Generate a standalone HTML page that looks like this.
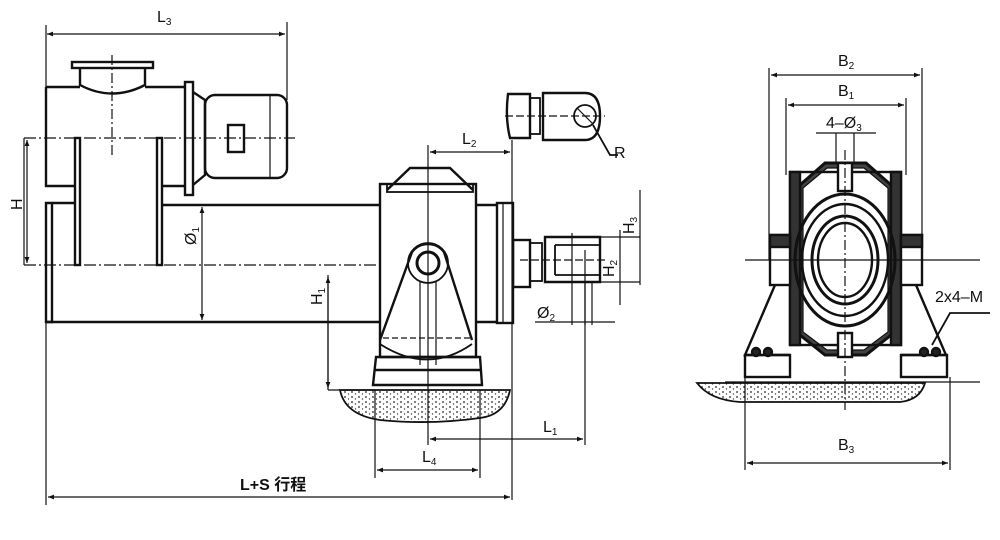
<!DOCTYPE html>
<html><head><meta charset="utf-8"><style>
html,body{margin:0;padding:0;background:#fff;}
svg{display:block;}
text{font-family:"Liberation Sans","Noto Sans CJK SC",sans-serif;fill:#111;}
</style></head><body>
<svg width="1000" height="540" viewBox="0 0 1000 540" xmlns="http://www.w3.org/2000/svg">
<defs>
<marker id="a" viewBox="0 0 10 10" refX="10" refY="5" markerWidth="7" markerHeight="5" orient="auto-start-reverse"><path d="M0,1 L10,5 L0,9z" fill="#111"/></marker>
<pattern id="dots" width="7" height="5" patternUnits="userSpaceOnUse"><circle cx="2" cy="2" r="0.9" fill="#222"/><circle cx="5.5" cy="4" r="0.7" fill="#444"/></pattern>
</defs>
<g stroke="#111" fill="none" stroke-width="2.4">
<line x1="46" y1="25" x2="46" y2="140" stroke-width="1.2"/>
<line x1="287" y1="22" x2="287" y2="100" stroke-width="1.2"/>
<line x1="47" y1="34" x2="285" y2="34" stroke-width="1.2" marker-start="url(#a)" marker-end="url(#a)"/>
<rect x="72" y="62" width="81" height="6"/>
<path d="M80,68 V85 Q112,102 145,85 V68"/>
<line x1="112" y1="55" x2="112" y2="155" stroke-width="1.2" stroke-dasharray="10,3,2,3"/>
<path d="M46,87 H80 M145,87 H185 M46,87 V186 H75"/>
<line x1="162" y1="186" x2="185" y2="186"/>
<line x1="24" y1="138" x2="295" y2="138" stroke-width="1.2" stroke-dasharray="12,3,2,3"/>
<rect x="185" y="82" width="8" height="113"/>
<path d="M193,92 L205,100 V175 L193,185"/>
<rect x="205" y="95" width="82" height="83" rx="10"/>
<line x1="270" y1="95" x2="270" y2="178" stroke-width="1.2"/>
<rect x="228" y="125" width="16" height="27"/>
<rect x="75" y="138" width="5" height="127"/>
<rect x="157" y="138" width="5" height="127"/>
<path d="M46,203 H52 V322 H46 Z"/>
<line x1="52" y1="203" x2="75" y2="203"/>
<line x1="162" y1="205" x2="380" y2="205"/>
<line x1="46" y1="322" x2="380" y2="322"/>
<line x1="24" y1="265" x2="382" y2="265" stroke-width="1.2" stroke-dasharray="12,3,2,3"/>
<line x1="202" y1="207" x2="202" y2="320" stroke-width="1.2" marker-start="url(#a)" marker-end="url(#a)"/>
<line x1="24" y1="138" x2="24" y2="265" stroke-width="1.2"/>
<line x1="27" y1="140" x2="27" y2="263" stroke-width="1.2" marker-start="url(#a)" marker-end="url(#a)"/>
<rect x="380" y="184" width="96" height="173"/>
<path d="M387,190 L410,168 H450 L473,190" />
<rect x="387" y="184" width="86" height="8" stroke-width="1.8"/>
<line x1="476" y1="205" x2="497" y2="205"/>
<line x1="476" y1="322" x2="497" y2="322"/>
<rect x="497" y="203" width="16" height="120"/>
<line x1="503" y1="203" x2="503" y2="323" stroke-width="1.2"/>
<rect x="513" y="240" width="17" height="47"/>
<path d="M380,340 L412,252 A20,20 0 0 1 444,252 L472,340"/>
<circle cx="428" cy="263" r="11" stroke-width="3"/>
<circle cx="428" cy="263" r="20" stroke-width="1.8"/>
<path d="M380,344 Q428,375 472,344" stroke-width="1.8"/>
<line x1="420" y1="282" x2="420" y2="365" stroke-width="1.2"/>
<line x1="436" y1="282" x2="436" y2="365" stroke-width="1.2"/>
<line x1="383" y1="338" x2="473" y2="338" stroke-width="1.2" stroke-dasharray="6,3"/>
<path d="M376,357 L373,385 H482 L480,357 Z"/>
<line x1="375" y1="370" x2="481" y2="370"/>
<line x1="428" y1="145" x2="428" y2="445" stroke-width="1.2"/>
<path d="M340,390 H510 Q505,415 480,418 Q430,425 380,420 Q345,415 340,390 Z" fill="url(#dots)" stroke-width="1.8"/>
<line x1="328" y1="390" x2="375" y2="390" stroke-width="1.2"/>
<line x1="328" y1="275" x2="328" y2="390" stroke-width="1.2"/>
<line x1="328" y1="277" x2="328" y2="388" stroke-width="1.2" marker-start="url(#a)" marker-end="url(#a)"/>
<line x1="512" y1="140" x2="512" y2="500" stroke-width="1.2"/>
<line x1="430" y1="152" x2="510" y2="152" stroke-width="1.2" marker-start="url(#a)" marker-end="url(#a)"/>
<line x1="375" y1="390" x2="375" y2="478" stroke-width="1.2"/>
<line x1="480" y1="390" x2="480" y2="478" stroke-width="1.2"/>
<line x1="377" y1="470" x2="478" y2="470" stroke-width="1.2" marker-start="url(#a)" marker-end="url(#a)"/>
<line x1="430" y1="439" x2="583" y2="439" stroke-width="1.2" marker-start="url(#a)" marker-end="url(#a)"/>
<line x1="585" y1="250" x2="585" y2="445" stroke-width="1.2"/>
<line x1="46" y1="322" x2="46" y2="505" stroke-width="1.2"/>
<line x1="48" y1="497" x2="510" y2="497" stroke-width="1.2" marker-start="url(#a)" marker-end="url(#a)"/>
<path d="M508,94 H530 V138 H510 Q505,118 508,94 Z"/>
<rect x="530" y="98" width="10" height="36" stroke-width="1.8"/>
<path d="M543,93 H585 Q600,93 600,116 Q600,140 585,140 H543 Z"/>
<circle cx="585" cy="116" r="11" stroke-width="1.8"/>
<line x1="577" y1="108" x2="593" y2="124" stroke-width="1.2"/>
<line x1="505" y1="116" x2="605" y2="116" stroke-width="1.2" stroke-dasharray="8,3"/>
<path d="M593,125 L610,155 H618" stroke-width="1.8"/>
<rect x="530" y="243" width="12" height="38" stroke-width="1.8"/>
<path d="M545,237 H600 V282 H545 Z"/>
<path d="M555,245 H600 M555,275 H600 M555,245 V275" stroke-width="1.8"/>
<line x1="520" y1="260" x2="605" y2="260" stroke-width="1.2" stroke-dasharray="8,3"/>
<line x1="572" y1="233" x2="572" y2="325" stroke-width="1.2"/>
<line x1="585" y1="282" x2="585" y2="325" stroke-width="1.2"/>
<line x1="592" y1="282" x2="592" y2="325" stroke-width="1.2"/>
<line x1="535" y1="322" x2="615" y2="322" stroke-width="1.2"/>
<line x1="600" y1="237" x2="640" y2="237" stroke-width="1.2"/>
<line x1="600" y1="282" x2="640" y2="282" stroke-width="1.2"/>
<line x1="620" y1="230" x2="620" y2="305" stroke-width="1.2"/>
<line x1="640" y1="190" x2="640" y2="285" stroke-width="1.2"/>
</g>
<g font-size="16">
<text x="157" y="22">L<tspan font-size="10" dy="3">3</tspan></text>
<text x="462" y="144">L<tspan font-size="10" dy="3">2</tspan></text>
<text x="422" y="462">L<tspan font-size="10" dy="3">4</tspan></text>
<text x="543" y="432">L<tspan font-size="10" dy="3">1</tspan></text>
<text x="240" y="490" font-weight="bold">L+S 行程</text>
<text x="614" y="158">R</text>
<text x="537" y="318">Ø<tspan font-size="10" dy="3">2</tspan></text>
<text transform="translate(22,210) rotate(-90)">H</text>
<text transform="translate(196,245) rotate(-90)">Ø<tspan font-size="10" dy="3">1</tspan></text>
<text transform="translate(322,305) rotate(-90)">H<tspan font-size="10" dy="3">1</tspan></text>
<text transform="translate(634,234) rotate(-90)">H<tspan font-size="10" dy="3">3</tspan></text>
<text transform="translate(614,277) rotate(-90)">H<tspan font-size="10" dy="3">2</tspan></text>
<text x="838" y="66">B<tspan font-size="10" dy="3">2</tspan></text>
<text x="838" y="96">B<tspan font-size="10" dy="3">1</tspan></text>
<text x="826" y="128">4–Ø<tspan font-size="10" dy="3">3</tspan></text>
<text x="838" y="450">B<tspan font-size="10" dy="3">3</tspan></text>
<text x="935" y="302">2x4–M</text>
</g>
<g stroke="#111" fill="none" stroke-width="2.4">
<line x1="769" y1="68" x2="769" y2="260" stroke-width="1.2"/>
<line x1="922" y1="68" x2="922" y2="260" stroke-width="1.2"/>
<line x1="771" y1="75" x2="920" y2="75" stroke-width="1.2" marker-start="url(#a)" marker-end="url(#a)"/>
<line x1="786" y1="98" x2="786" y2="175" stroke-width="1.2"/>
<line x1="906" y1="98" x2="906" y2="175" stroke-width="1.2"/>
<line x1="788" y1="105" x2="904" y2="105" stroke-width="1.2" marker-start="url(#a)" marker-end="url(#a)"/>
<line x1="816" y1="133" x2="876" y2="133" stroke-width="1.2"/>
<line x1="836" y1="133" x2="836" y2="165" stroke-width="1.2"/>
<line x1="854" y1="133" x2="854" y2="165" stroke-width="1.2"/>
<path d="M800,185 L825,163 H866 L891,185 V335 L866,355 H825 L800,335 Z" fill="#444" stroke-width="3"/>
<path d="M803,188 L827,168 H864 L888,188 V332 L864,350 H827 L803,332 Z" fill="#fff" stroke-width="1.2"/>
<rect x="790" y="172" width="111" height="173"/>
<rect x="790" y="172" width="10" height="173" fill="#333"/>
<rect x="891" y="172" width="10" height="173" fill="#333"/>
<rect x="838" y="163" width="14" height="28" fill="#fff"/>
<rect x="838" y="333" width="14" height="24" fill="#fff"/>
<ellipse cx="845" cy="260" rx="50" ry="66" stroke-width="3"/>
<ellipse cx="845" cy="260" rx="43" ry="56"/>
<ellipse cx="845" cy="260" rx="33" ry="44" stroke-width="3"/>
<ellipse cx="845" cy="260" rx="27" ry="37"/>
<rect x="770" y="235" width="20" height="50" fill="#fff"/>
<rect x="901" y="235" width="21" height="50" fill="#fff"/>
<rect x="770" y="235" width="20" height="12" fill="#333"/>
<rect x="901" y="235" width="21" height="12" fill="#333"/>
<line x1="745" y1="260" x2="980" y2="260" stroke-width="1.2"/>
<line x1="845" y1="150" x2="845" y2="410" stroke-width="1.2" stroke-dasharray="10,3,2,3"/>
<path d="M775,285 L745,355 H790"/>
<path d="M916,285 L946,355 H901"/>
<rect x="745" y="355" width="45" height="22"/>
<rect x="901" y="355" width="46" height="22"/>
<circle cx="756" cy="352" r="4" fill="#222"/><circle cx="768" cy="352" r="4" fill="#222"/>
<circle cx="924" cy="352" r="4" fill="#222"/><circle cx="936" cy="352" r="4" fill="#222"/>
<path d="M697,383 H925 Q920,400 900,402 H740 Q710,400 697,383 Z" fill="url(#dots)" stroke-width="1.8"/>
<line x1="725" y1="382" x2="980" y2="382" stroke-width="1.2"/>
<line x1="745" y1="377" x2="745" y2="470" stroke-width="1.2"/>
<line x1="950" y1="377" x2="950" y2="470" stroke-width="1.2"/>
<line x1="747" y1="463" x2="948" y2="463" stroke-width="1.2" marker-start="url(#a)" marker-end="url(#a)"/>
<path d="M990,313 H950 L932,345" stroke-width="1.8"/>
</g>
</svg>
</body></html>
